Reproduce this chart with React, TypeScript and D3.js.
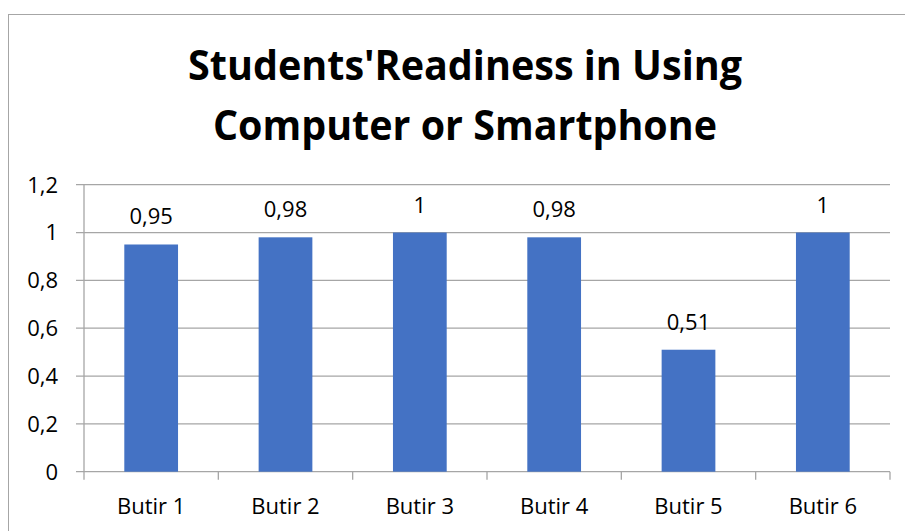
import React, { useRef, useEffect } from 'react';
import * as d3 from 'd3';

const categories = ['Butir 1', 'Butir 2', 'Butir 3', 'Butir 4', 'Butir 5', 'Butir 6'];
const values = [0.95, 0.98, 1, 0.98, 0.51, 1];
const yTicks = [0, 0.2, 0.4, 0.6, 0.8, 1, 1.2];
const titleLines = ["Students'Readiness in Using", 'Computer or Smartphone'];

const fmt = (v: number) => String(+v.toFixed(2)).replace('.', ',');

const App: React.FC = () => {
  const svgRef = useRef<SVGSVGElement>(null);

  useEffect(() => {
    if (!svgRef.current) return;
    const svg = d3.select(svgRef.current);
    svg.selectAll('*').remove();

    const width = 905;
    const height = 531;
    const left = 84;
    const right = 890;
    const top = 184.7;
    const bottom = 471.7;
    const font = "'Open Sans', 'Noto Sans', sans-serif";
    const grid = '#a6a6a6';

    svg.attr('width', width).attr('height', height);

    svg.append('rect')
      .attr('x', 8.5).attr('y', 14.5)
      .attr('width', 1000).attr('height', 1000)
      .attr('fill', '#fff').attr('stroke', '#a6a6a6');

    // title
    svg.selectAll('.title')
      .data(titleLines)
      .enter().append('text')
      .attr('class', 'title')
      .attr('x', 465)
      .attr('y', (d, i) => 80 + i * 60)
      .attr('text-anchor', 'middle')
      .attr('textLength', (d, i) => (i === 0 ? 554 : 504))
      .attr('lengthAdjust', 'spacingAndGlyphs')
      .style('font-family', font)
      .style('font-weight', 700)
      .style('font-size', '42px')
      .style('fill', '#000')
      .text(d => d);

    const x = d3.scaleBand<string>()
      .domain(categories)
      .range([left, right])
      .paddingInner(0.6)
      .paddingOuter(0.3);

    const y = d3.scaleLinear().domain([0, 1.2]).range([bottom, top]);

    // gridlines
    svg.selectAll('.grid')
      .data(yTicks)
      .enter().append('line')
      .attr('x1', left - 8).attr('x2', right)
      .attr('y1', d => y(d)).attr('y2', d => y(d))
      .attr('stroke', grid).attr('stroke-width', 1.3);

    // y axis line
    svg.append('line')
      .attr('x1', left).attr('x2', left)
      .attr('y1', y(1.2)).attr('y2', bottom)
      .attr('stroke', grid).attr('stroke-width', 1.3);

    // x ticks at category boundaries
    const step = x.step();
    const bounds = d3.range(categories.length + 1).map(i => left + i * step);
    svg.selectAll('.xtick')
      .data(bounds)
      .enter().append('line')
      .attr('x1', d => d).attr('x2', d => d)
      .attr('y1', bottom).attr('y2', bottom + 8)
      .attr('stroke', grid).attr('stroke-width', 1.3);

    // y tick labels
    svg.selectAll('.ylabel')
      .data(yTicks)
      .enter().append('text')
      .attr('x', 58)
      .attr('y', d => y(d))
      .attr('dy', '0.36em')
      .attr('text-anchor', 'end')
      .style('font-family', font)
      .style('font-size', '22px')
      .style('fill', '#000')
      .text(d => fmt(d));

    // bars
    svg.selectAll('.bar')
      .data(values)
      .enter().append('rect')
      .attr('x', (d, i) => x(categories[i])!)
      .attr('y', d => y(d))
      .attr('width', x.bandwidth())
      .attr('height', d => bottom - y(d))
      .attr('fill', '#4472c4');

    // data labels
    svg.selectAll('.dlabel')
      .data(values)
      .enter().append('text')
      .attr('x', (d, i) => x(categories[i])! + x.bandwidth() / 2)
      .attr('y', d => y(d) - 20)
      .attr('text-anchor', 'middle')
      .style('font-family', font)
      .style('font-size', '22px')
      .style('fill', '#000')
      .text(d => fmt(d));

    // x labels
    svg.selectAll('.xlabel')
      .data(categories)
      .enter().append('text')
      .attr('x', d => x(d)! + x.bandwidth() / 2)
      .attr('y', 514)
      .attr('text-anchor', 'middle')
      .style('font-family', font)
      .style('font-size', '22px')
      .style('fill', '#000')
      .text(d => d);
  }, []);

  return <svg ref={svgRef} style={{ position: 'absolute', left: 0, top: 0 }}></svg>;
};

export default App;
